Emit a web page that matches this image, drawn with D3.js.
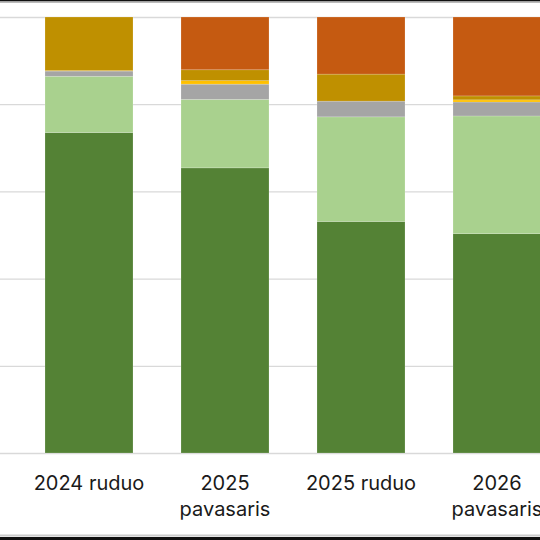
<!doctype html>
<html>
<head>
	<meta charset="utf-8">
	<title>Stacked bars</title>
	<script src="https://d3js.org/d3.v7.min.js"></script>
	<style>
		body { margin: 0; background: #fff; }
		svg { display: block; }
	</style>
</head>
<body>
	<svg id="chart" width="540" height="540"></svg>
	<script>

	// categories (the first one is mostly off the left edge)
	var categories = ["2024 pavasaris", "2024 ruduo", "2025 pavasaris", "2025 ruduo", "2026 pavasaris"];
	var tickLabels = [["2024", "pavasaris"], ["2024 ruduo"], ["2025", "pavasaris"], ["2025 ruduo"], ["2026", "pavasaris"]];

	// shares in %, bottom to top (null = not visible in the picture)
	var darkGreen  = [null, 73.5, 65.4, 53.1, 50.3];
	var lightGreen = [null, 12.9, 15.7, 24.0, 27.0];
	var grey       = [null, 1.2, 3.5, 3.6, 3.2];
	var yellow     = [null, 0.1, 0.8, 0.0, 0.5];
	var gold       = [null, 12.3, 2.5, 6.2, 0.9];
	var orange     = [null, 0.0, 12.1, 13.1, 18.1];

	var yTicks = [0, 20, 40, 60, 80, 100];

	var seriesNames = ["darkGreen", "lightGreen", "grey", "yellow", "gold", "orange"];
	var seriesValues = [darkGreen, lightGreen, grey, yellow, gold, orange];
	var colors = ["#548235", "#a9d18e", "#a5a5a5", "#ffc000", "#bf9000", "#c55a11"];

	var width = 540, height = 540;
	var svg = d3.select("#chart");

	// build rows for d3.stack
	var rows = categories.map(function(c, i) {
		var row = { category: c, empty: darkGreen[i] === null };
		seriesNames.forEach(function(s, j) { row[s] = seriesValues[j][i] || 0; });
		return row;
	});
	var stacked = d3.stack().keys(seriesNames)(rows);

	// X axis: band scale shifted so the first category is cut off on the left
	var x = d3.scaleBand()
		.domain(categories)
		.range([-115, 565])
		.paddingInner(48 / 136)
		.paddingOuter(24 / 136);

	// Y axis
	var y = d3.scaleLinear()
		.domain([0, 100])
		.range([453, 17]);

	// gridlines
	svg.append("g")
		.attr("class", "grid")
		.call(d3.axisLeft(y).tickValues(yTicks).tickSize(-width).tickFormat(""))
		.call(function(g) { g.select(".domain").remove(); })
		.selectAll("line")
			.attr("stroke", "#d9d9d9")
			.attr("stroke-width", 1.3);

	// bars
	svg.append("g")
		.selectAll("g")
		.data(stacked)
		.enter()
		.append("g")
			.attr("fill", function(d, i) { return colors[i]; })
		.selectAll("rect")
		.data(function(d) { return d.filter(function(p) { return !p.data.empty; }); })
		.enter()
		.append("rect")
			.attr("x", function(d) { return x(d.data.category); })
			.attr("y", function(d) { return y(d[1]); })
			.attr("width", x.bandwidth())
			.attr("height", function(d) { return y(d[0]) - y(d[1]); })
			.attr("stroke", "rgba(255,255,255,0.25)")
			.attr("stroke-width", 0.7);

	// category labels
	var xAxis = svg.append("g")
		.attr("transform", "translate(0,453)")
		.call(d3.axisBottom(x).tickSize(0).tickFormat(""));
	xAxis.select(".domain").remove();

	xAxis.selectAll(".tick")
		.append("text")
			.attr("fill", "#1a1a1a")
			.attr("font-family", "Inter, 'Open Sans', sans-serif")
			.attr("font-size", 20)
			.attr("text-anchor", "middle")
		.selectAll("tspan")
		.data(function(d) { return tickLabels[categories.indexOf(d)]; })
		.enter()
		.append("tspan")
			.attr("x", 0)
			.attr("y", function(d, i) { return 37 + i * 26; })
			.text(function(d) { return d; });

	// frame edges at top and bottom of the crop
	svg.append("rect").attr("x", 0).attr("y", 0).attr("width", width).attr("height", 1.5).attr("fill", "#111");
	svg.append("rect").attr("x", 0).attr("y", 1.5).attr("width", width).attr("height", 1.5).attr("fill", "#bbb");
	svg.append("rect").attr("x", 0).attr("y", 534.5).attr("width", width).attr("height", 2).attr("fill", "#ccc");
	svg.append("rect").attr("x", 0).attr("y", 537).attr("width", width).attr("height", 3).attr("fill", "#111");

	</script>
</body>
</html>
